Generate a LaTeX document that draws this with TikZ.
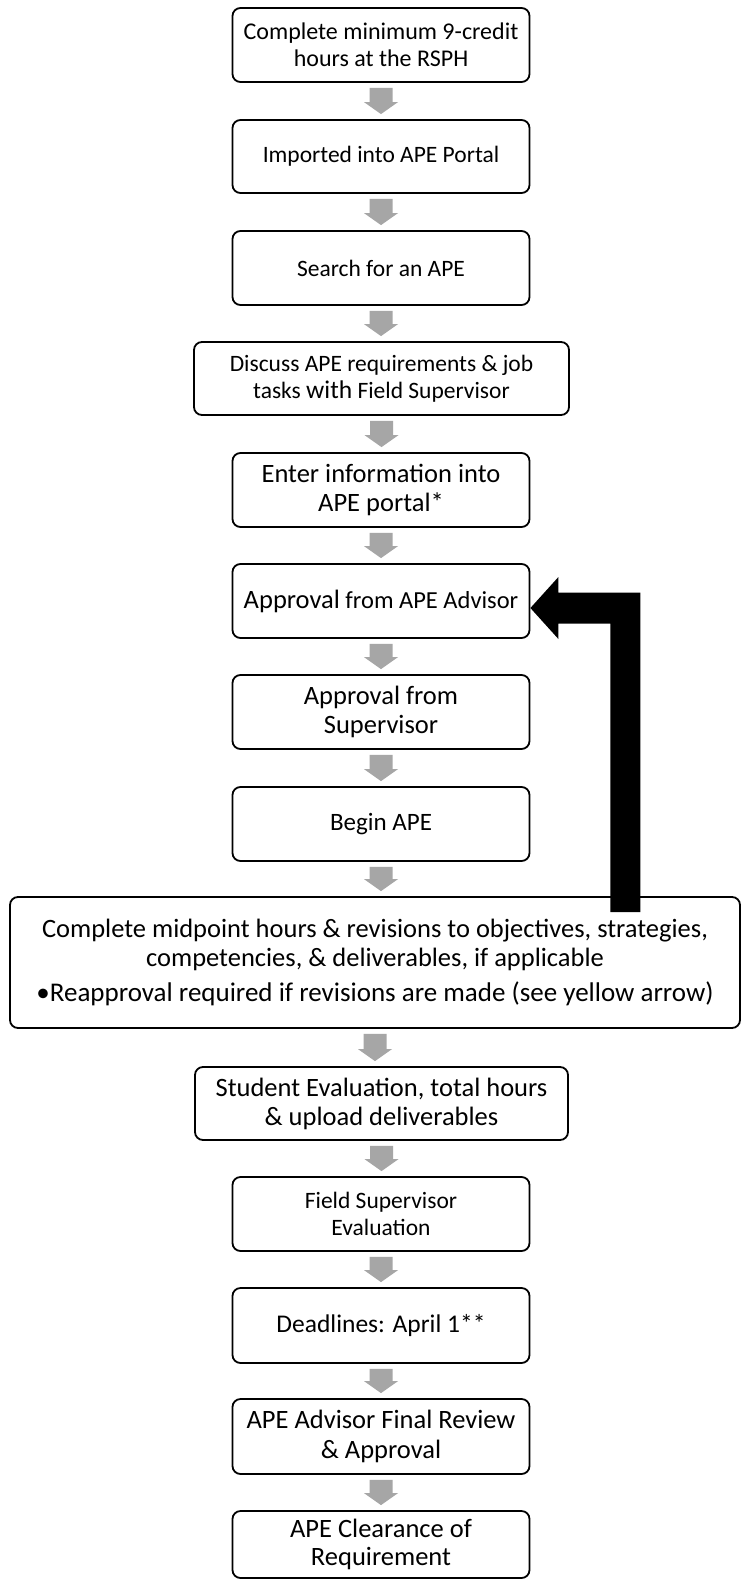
\documentclass[tikz,border=0pt]{standalone}
\usepackage{fontspec}
\setmainfont{Carlito}
\usetikzlibrary{calc}
\definecolor{arrowgray}{HTML}{A6A6A6}
\newcommand\fsz[2]{\fontsize{#1pt}{#2pt}\selectfont}
\newcommand\garrow[2]{%
  \fill[arrowgray] let \p1=(#1.south), \p2=(#2.north) in
    (\x1-11.5pt,\y1-5pt) -- (\x1+11.5pt,\y1-5pt) -- (\x1+11.5pt,\y2+17pt) --
    (\x1+17pt,\y2+17pt) -- (\x1,\y2+5pt) -- (\x1-17pt,\y2+17pt) --
    (\x1-11.5pt,\y2+17pt) -- cycle;}
\begin{document}
\begin{tikzpicture}[x=1pt,y=-1pt,
  box/.style={draw=black, line width=1.8pt, rounded corners=8pt, fill=white,
    align=center, inner sep=0pt, minimum width=297pt, minimum height=74pt,
    font=\fsz{24}{27}},
  widebox/.style={box, minimum width=375pt}]
\useasboundingbox (0,0) rectangle (741,1581);
\clip (0,0) rectangle (741,1581);
\fill[white] (0,0) rectangle (741,1581);

\node[box] (b1) at (381,45) {Complete minimum 9-credit\\hours at the RSPH};
\node[box, minimum height=73pt, font=\fsz{23.5}{27}] (b2) at (381,156.5) {Imported into APE Portal};
\node[box, font=\fsz{23.5}{27}] (b3) at (381,268) {Search for an APE};
\node[widebox, minimum height=73pt, font=\fsz{23.5}{27.5}] (b4) at (381.5,378.5)
  {Discuss APE requirements \& job\\tasks {\fsz{25.5}{27.5}with} Field Supervisor};
\node[box, font=\fsz{26.5}{29}] (b5) at (381,490) {Enter information into\\APE portal*};
\node[box, font=\fsz{24.5}{28}] (b6) at (381,601) {{\fsz{26.5}{28}Approval} from APE Advisor};
\node[box, font=\fsz{26.5}{29}] (b7) at (381,712) {Approval from\\Supervisor};
\node[box, font=\fsz{25}{28}] (b8) at (381,824) {Begin APE};
\node[box, minimum width=730pt, minimum height=131pt, font=\fsz{26.5}{29}] (b9) at (375,962.5)
  {Complete midpoint hours \& revisions to objectives, strategies,\\
   competencies, \& deliverables, if applicable\\[6pt]
   {\fsz{27}{29}\textbullet Reapproval required if revisions are made (see yellow arrow)}};
\node[widebox, minimum width=373pt, minimum height=73pt, font=\fsz{26.5}{29}] (b10) at (381.5,1103.5)
  {Student Evaluation, total hours\\\& upload deliverables};
\node[box, font=\fsz{23.5}{27}] (b11) at (381,1214) {Field Supervisor\\Evaluation};
\node[box, minimum height=75pt, font=\fsz{25.5}{28}] (b12) at (381,1325.5) {Deadlines: April 1**};
\node[box, minimum height=75pt, font=\fsz{26.5}{30}] (b13) at (381,1436.5) {APE Advisor Final Review\\\& Approval};
\node[box, minimum height=67pt, font=\fsz{26.5}{28}] (b14) at (381,1544.5) {APE Clearance of\\Requirement};

\garrow{b1}{b2}
\garrow{b2}{b3}
\garrow{b3}{b4}
\garrow{b4}{b5}
\garrow{b5}{b6}
\garrow{b6}{b7}
\garrow{b7}{b8}
\garrow{b8}{b9}
\garrow{b9}{b10}
\garrow{b10}{b11}
\garrow{b11}{b12}
\garrow{b12}{b13}
\garrow{b13}{b14}

% black feedback arrow from b9 up to b6
\fill[black] let \p1=(b6.east), \p2=(b9.north) in
  (\x1,\y1-7pt) -- (\x1+28pt,\y1+24pt) -- (\x1+28pt,\y1+8.5pt) --
  (\x1+110pt,\y1+8.5pt) -- (\x1+110pt,\y2-16pt) -- (\x1+80pt,\y2-16pt) --
  (\x1+80pt,\y1-22.5pt) -- (\x1+28pt,\y1-22.5pt) -- (\x1+28pt,\y1-38pt) -- cycle;
\end{tikzpicture}
\end{document}
